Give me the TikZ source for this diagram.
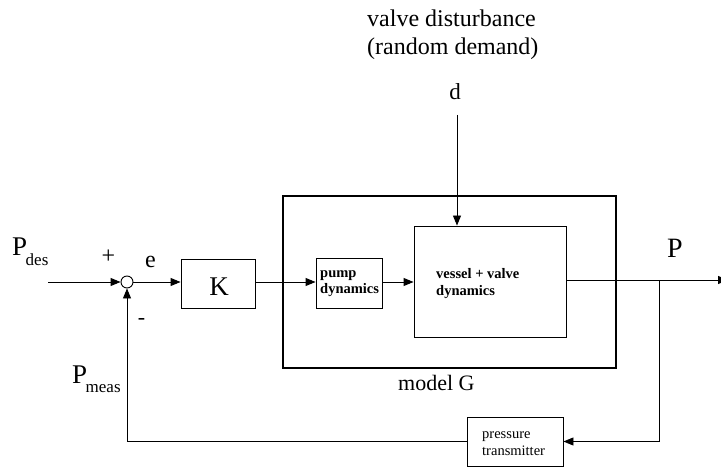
\documentclass[tikz,border=0pt]{standalone}
\usepackage{fontspec}
\setmainfont{Liberation Serif}
\usetikzlibrary{arrows.meta}
\begin{document}
\begin{tikzpicture}[x=1pt,y=-1pt,
  line/.style={line width=0.9pt},
  arr/.style={line width=0.9pt, -{Triangle[length=10pt,width=8pt]}},
  blk/.style={draw, line width=0.9pt, inner sep=0pt},
  txt/.style={inner sep=0pt, anchor=base west},
  big/.style={font=\fontsize{27}{30}\selectfont},
  lbl/.style={font=\fontsize{24}{28}\selectfont},
  small/.style={font=\fontsize{14.5}{16.5}\selectfont},
  smallb/.style={font=\fontsize{14.5}{16.5}\selectfont\bfseries},
]
\useasboundingbox (0,0) rectangle (721,468);
% model G frame
\node[draw, line width=2.4pt, minimum width=333pt, minimum height=172pt, inner sep=0pt] (G) at (449.5,282) {};
% blocks
\node[blk, minimum width=74pt, minimum height=49pt] (K) at (218,283.5) {};
\node[txt, big, anchor=base] (Ktxt) at (219,295) {K};
\node[blk, minimum width=66pt, minimum height=50pt] (pump) at (349,283) {};
\node[txt, smallb] (pumpa) at (320,277) {pump};
\node[txt, smallb] (pumpb) at (320,293) {dynamics};
\node[blk, minimum width=152pt, minimum height=111pt] (vessel) at (490,281.5) {};
\node[txt, smallb] (vesa) at (436,278) {vessel + valve};
\node[txt, smallb] (vesb) at (436,295) {dynamics};
\node[blk, minimum width=96pt, minimum height=49pt] (pt) at (515,441.5) {};
\node[txt, small] (pta) at (482,438) {pressure};
\node[txt, small] (ptb) at (482,455) {transmitter};
\node[draw, circle, line width=0.9pt, minimum size=12pt, inner sep=0pt] (sum) at (127,282) {};
% labels
\node[txt] (pdes) at (12,255) {\fontsize{27}{30}\selectfont P\kern-1.5pt\raisebox{-10pt}{\fontsize{17}{17}\selectfont des}};
\node[txt] (pmeas) at (72,383) {\fontsize{27}{30}\selectfont P\kern-1.5pt\raisebox{-9pt}{\fontsize{17}{17}\selectfont meas}};
\node[txt, lbl, anchor=base] (plus) at (108.5,264) {+};
\node[txt, lbl] (e) at (145,267) {e};
\node[txt, font=\fontsize{22}{24}\selectfont, anchor=base] (minus) at (141.5,324) {-};
\node[txt, font=\fontsize{23}{26}\selectfont, anchor=base] (d) at (455,100) {d};
\node[txt, font=\fontsize{28}{30}\selectfont] (P) at (667,258) {P};
\node[txt, lbl] (dist1) at (367,27) {valve disturbance};
\node[txt, lbl] (dist2) at (367,55) {(random demand)};
\node[txt, font=\fontsize{22}{24}\selectfont] (modelG) at (398,390) {model G};
% connectors
\coordinate (in) at (48,282);
\coordinate (dtop) at (457,115);
\coordinate (out) at (728,280);
\coordinate (br) at (659,280);
\draw[arr] (in) -- (sum.west);
\draw[arr] (sum.east) -- (sum.east -| K.west);
\draw[arr] (K.east |- sum) -- (pump.west |- sum);
\draw[arr] (pump.east |- sum) -- (vessel.west |- sum);
\draw[arr] (dtop) -- (dtop |- vessel.north);
\draw[arr] (vessel.east |- out) -- (out);
\draw[arr] (br) |- (pt.east);
\draw[arr] (pt.west) -| (sum.south);
\end{tikzpicture}
\end{document}
